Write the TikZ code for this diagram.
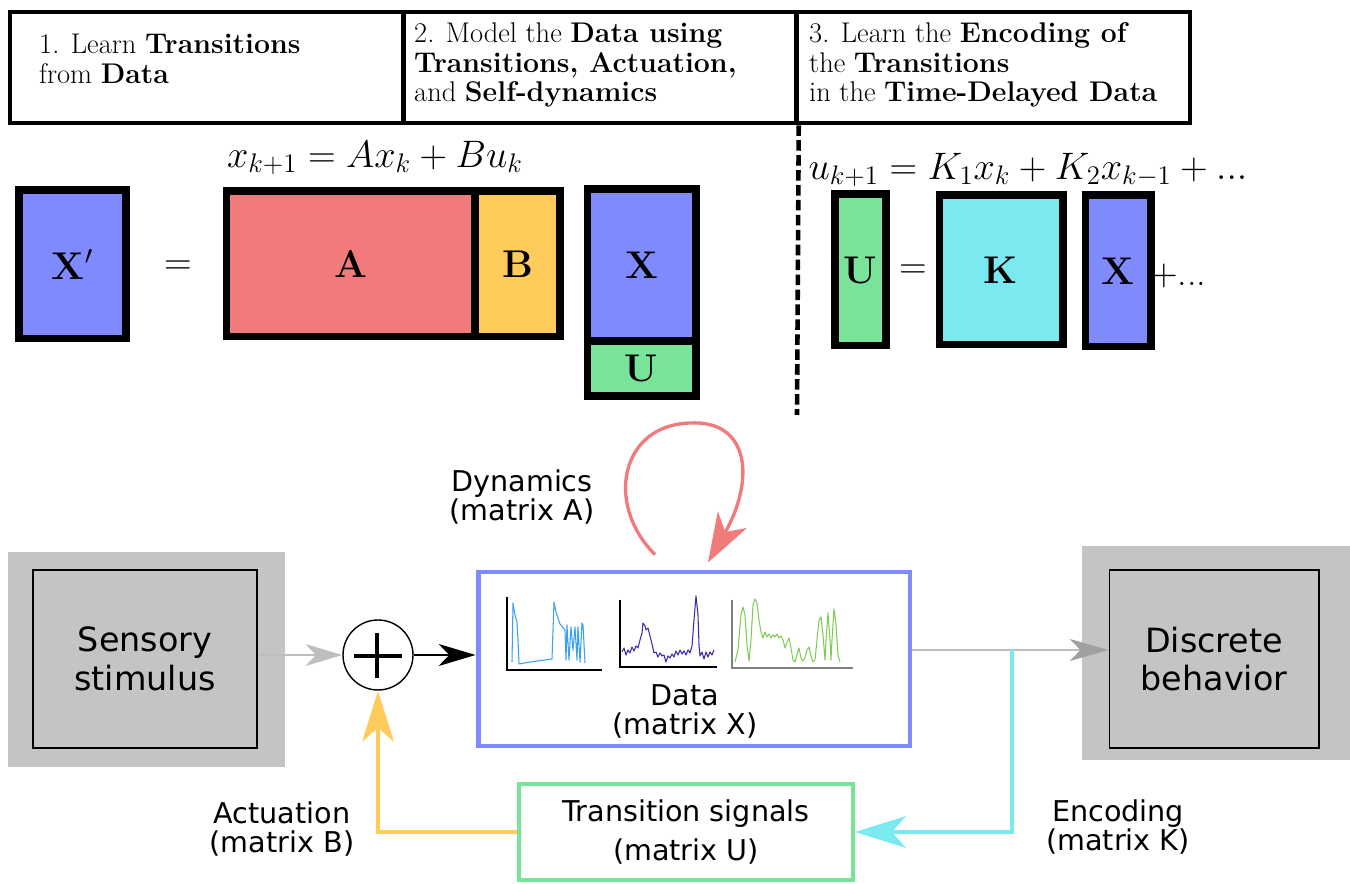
\RequirePackage{fix-cm}
\documentclass[tikz,border=0pt]{standalone}
\usepackage{fontspec}
\setsansfont{DejaVu Sans}
\usetikzlibrary{arrows.meta}
\definecolor{matblue}{RGB}{128,138,255}
\definecolor{matred}{RGB}{240,123,122}
\definecolor{matyellow}{RGB}{255,204,92}
\definecolor{matgreen}{RGB}{122,227,154}
\definecolor{matcyan}{RGB}{122,234,240}
\definecolor{boxgray}{RGB}{196,196,196}
\definecolor{lightline}{RGB}{190,190,190}
\definecolor{darkhead}{RGB}{160,160,160}
\definecolor{traceblue}{RGB}{58,160,240}
\definecolor{traceindigo}{RGB}{60,40,170}
\definecolor{tracegreen}{RGB}{125,205,85}

\begin{document}
\begin{tikzpicture}[x=0.02cm,y=-0.02cm]
    \tikzstyle{stage}=[draw,line width=2.6pt,minimum width=7.86cm,minimum height=2.22cm]
    \tikzstyle{stagetext}=[align=left,anchor=west,font=\fontsize{16.2}{16.8}\selectfont]
    \tikzstyle{mat}=[draw,line width=4pt,inner sep=0pt,font=\fontsize{22}{26}\selectfont\bfseries]
    \tikzstyle{eq}=[font=\fontsize{21.8}{26}\selectfont]
    \tikzstyle{graybox}=[fill=boxgray,minimum height=4.3cm]
    \tikzstyle{block}=[draw,line width=0.6pt,minimum height=3.56cm,align=center,font=\sffamily\fontsize{19}{22}\selectfont]
    \tikzstyle{lbl}=[align=center,font=\sffamily\fontsize{16.3}{16.5}\selectfont]
    \tikzstyle{tip}=[-{Stealth[length=21pt,width=12.5pt,inset=6pt]}]
    \tikzstyle{bigtip}=[-{Stealth[length=29pt,width=18pt,inset=8pt]}]
    \tikzstyle{trace}=[line width=0.6pt,line join=round]

    \useasboundingbox (0,0) rectangle (1350,884);

    % the three stages
    \node[stage] (s1) at (206.5,67.5) {};
    \node[stage] (s2) at (600,67.5) {};
    \node[stage] (s3) at (993.5,67.5) {};
    \node[stagetext] (s1text) at (33,59) {1. Learn \textbf{Transitions}\\from \textbf{Data}};
    \node[stagetext] (s2text) at (408,65) {2. Model the \textbf{Data using}\\\textbf{Transitions, Actuation,}\\and \textbf{Self-dynamics}};
    \node[stagetext] (s3text) at (803,65) {3. Learn the \textbf{Encoding of}\\the \textbf{Transitions}\\in the \textbf{Time-Delayed Data}};
    \coordinate (dashend) at (797,415);
    \draw[line width=2.6pt,dash pattern=on 6pt off 2.5pt] (s2.south east) -- (dashend);

    % X' = [A B][X;U]
    \node[eq] (dyneq) at (375,158) {$x_{k+1} = Ax_k + Bu_k$};
    \node[mat,fill=matblue,minimum width=2.14cm,minimum height=2.98cm] (Xp) at (72.5,264.5) {X$'$};
    \node[eq] (eqA) at (178,268) {$=$};
    \node[mat,fill=matred,minimum width=4.98cm,minimum height=2.92cm] (A) at (350.5,264) {A};
    \node[mat,fill=matyellow,minimum width=1.7cm,minimum height=2.92cm] (B) at (517.5,264) {B};
    \node[mat,fill=matblue,minimum width=2.18cm,minimum height=3.04cm] (X) at (641.5,265) {X};
    \node[mat,fill=matgreen,minimum width=2.18cm,minimum height=1.1cm] (U) at (641.5,368.5) {U};

    % U = K X + ...
    \node[eq] (enceq) at (1028,170) {$u_{k+1} = K_1x_k + K_2x_{k-1} + ...$};
    \node[mat,fill=matgreen,minimum width=1.02cm,minimum height=3.04cm] (U2) at (860.5,270) {U};
    \node[eq] (eqK) at (913,272) {$=$};
    \node[mat,fill=matcyan,minimum width=2.48cm,minimum height=3.0cm] (K) at (1001,270) {K};
    \node[mat,fill=matblue,minimum width=1.32cm,minimum height=3.04cm] (X2) at (1118,271) {X};
    \node[eq,anchor=west] (more) at (1144,276) {$+$...};

    % block diagram
    \node[graybox,minimum width=5.54cm] (sensbg) at (146.5,659.5) {};
    \node[block,minimum width=4.48cm] (sens) at (145,659) {Sensory\\stimulus};
    \node[graybox,minimum width=5.36cm,minimum height=4.28cm] (discbg) at (1216,653) {};
    \node[block,minimum width=4.2cm] (disc) at (1214,659) {Discrete\\behavior};
    \node[circle,draw,line width=0.8pt,minimum size=1.4cm] (sum) at (378,655) {};
    \draw[line width=2.6pt] ([shift={(-24,1)}]sum.center) -- ([shift={(24,1)}]sum.center);
    \draw[line width=2.6pt] ([shift={(-1,-22)}]sum.center) -- ([shift={(-1,23)}]sum.center);
    \node[draw=matblue,line width=2.8pt,minimum width=8.64cm,minimum height=3.48cm] (data) at (694,659) {};
    \node[lbl] (datatext) at (685,711) {Data\\(matrix X)};
    \node[draw=matgreen,line width=2.3pt,minimum width=6.68cm,minimum height=1.92cm,align=center,
          font=\sffamily\fontsize{16.3}{22}\selectfont] (trans) at (686,832) {Transition signals\\(matrix U)};
    \node[lbl] (dynlbl) at (522,497) {Dynamics\\(matrix A)};
    \node[lbl] (actlbl) at (282,829) {Actuation\\(matrix B)};
    \node[lbl] (enclbl) at (1118,827) {Encoding\\(matrix K)};

    % traces in the data box
    \draw[line width=0.8pt] (507,597) -- (507,670) -- (602,670);
    \draw[trace,traceblue] (512,662) -- (513,603) -- (515,615) -- (517,622) -- (518,640) -- (519,664)
      -- (530,662) -- (545,660) -- (552,659) -- (554,602) -- (556,612) -- (560,624) -- (565,630)
      -- (566,660) -- (567,625) -- (569,660) -- (571,627) -- (573,650) -- (575,627) -- (577,660)
      -- (578,627) -- (580,662) -- (582,623) -- (583,625) -- (585,663);
    \draw[line width=0.8pt] (620,600) -- (620,667) -- (717,667);
    \draw[trace,traceindigo] (622,652) -- (624,648) -- (626,655) -- (628,650) -- (630,653) -- (632,647)
      -- (634,651) -- (636,646) -- (638,648) -- (640,640) -- (642,633) -- (643,623) -- (645,626)
      -- (646,630) -- (648,628) -- (650,636) -- (652,644) -- (654,653) -- (656,652) -- (658,657)
      -- (660,653) -- (662,656) -- (664,655) -- (666,662) -- (668,656) -- (670,658) -- (672,654)
      -- (674,657) -- (676,651) -- (678,655) -- (680,650) -- (682,654) -- (684,651) -- (686,655)
      -- (688,650) -- (690,653) -- (692,646) -- (694,620) -- (696,596) -- (698,615) -- (699,645)
      -- (700,656) -- (702,652) -- (704,659) -- (706,652) -- (708,657) -- (710,652) -- (712,655)
      -- (714,650);
    \draw[line width=0.6pt,gray] (732,600) -- (732,668) -- (853,668);
    \draw[trace,tracegreen] (735,662) -- (738,650) -- (741,615) -- (743,607) -- (745,615) -- (747,645)
      -- (749,661) -- (751,640) -- (753,605) -- (755,599) -- (757,603) -- (759,620) -- (761,632)
      -- (763,638) -- (765,632) -- (767,637) -- (769,634) -- (771,638) -- (773,635) -- (775,637)
      -- (777,634) -- (779,638) -- (781,636) -- (783,640) -- (785,648) -- (787,642) -- (789,638)
      -- (791,648) -- (793,660) -- (795,662) -- (797,655) -- (799,648) -- (801,658) -- (803,661)
      -- (805,658) -- (807,650) -- (809,647) -- (811,656) -- (813,662) -- (815,660) -- (817,640)
      -- (819,620) -- (821,617) -- (823,635) -- (825,660) -- (826,640) -- (828,613) -- (830,640)
      -- (831,660) -- (832,640) -- (834,609) -- (836,625) -- (838,655) -- (840,662);

    % connectors
    \coordinate (split) at (1012,650);
    \draw[tip,line width=1.1pt,lightline] (sens.east |- sum) -- (sum.west);
    \draw[tip,line width=1.5pt] (sum.east) -- (data.west |- sum);
    \draw[line width=1.1pt,lightline,-{Stealth[length=22pt,width=12.5pt,inset=6pt,darkhead]}]
      (data.east |- split) -- (disc.west |- split);
    \draw[bigtip,line width=2.2pt,matcyan] (split) |- (trans.east);
    \draw[bigtip,line width=2.2pt,matyellow] (trans.west) -| (sum.south);
    \draw[line width=1.9pt,matred,-{Stealth[length=28pt,width=19pt,inset=8pt]}]
      ([shift={(-39,-15)}]data.north) .. controls (605,505) and (620,425) .. (690,423)
      .. controls (750,420) and (755,480) .. ([shift={(14,-7)}]data.north);
\end{tikzpicture}
\end{document}
